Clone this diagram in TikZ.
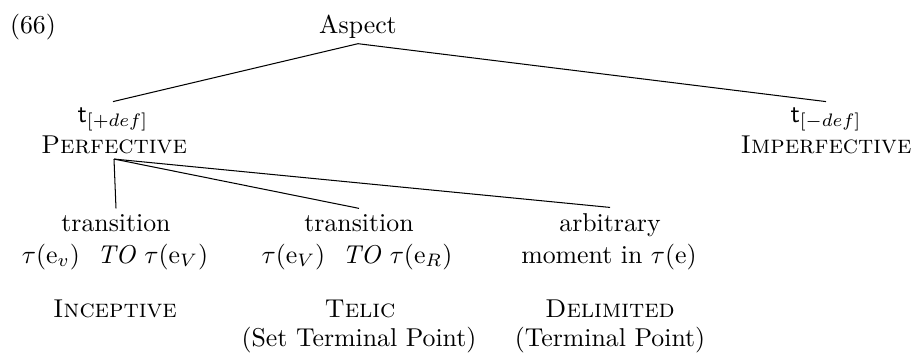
\documentclass[tikz,border=0pt]{standalone}
\begin{document}
\begin{tikzpicture}[x=0.3876pt,y=-0.3876pt,
  lbl/.style={anchor=base,inner sep=2pt},
  branch/.style={line width=0.4pt}]
\useasboundingbox (0,0) rectangle (915,354);
% top
\node[lbl] (num) at (33,33) {(66)};
\node[lbl] (asp) at (358,33) {Aspect};
% second level
\node[lbl] (tp) at (113,122) {\textsf{t}$_{[+def]}$};
\node[lbl] (pf) at (114,153) {\textsc{Perfective}};
\node[lbl] (tm) at (826,122) {\textsf{t}$_{[-def]}$};
\node[lbl] (ipf) at (826,153) {\textsc{Imperfective}};
% third level
\node[lbl] (tr1) at (116,231) {transition};
\node[lbl] (ta1) at (115,263) {$\tau$(e$_v$)\ \ \textit{TO} $\tau$(e$_V$)};
\node[lbl] (inc) at (115,317) {\textsc{Inceptive}};
\node[lbl] (tr2) at (359,231) {transition};
\node[lbl] (ta2) at (357,263) {$\tau$(e$_V$)\ \ \textit{TO} $\tau$(e$_R$)};
\node[lbl] (tel) at (360,317) {\textsc{Telic}};
\node[lbl] (stp) at (359,346) {(Set Terminal Point)};
\node[lbl] (arb) at (610,231) {arbitrary};
\node[lbl] (mom) at (609,263) {moment in $\tau$(e)};
\node[lbl] (del) at (610,317) {\textsc{Delimited}};
\node[lbl] (tpt) at (610,346) {(Terminal Point)};
% branches
\draw[branch] (asp.south) -- (tp.north);
\draw[branch] (asp.south) -- (tm.north);
\draw[branch] (pf.south) -- (tr1.north);
\draw[branch] (pf.south) -- (tr2.north);
\draw[branch] (pf.south) -- (arb.north);
\end{tikzpicture}
\end{document}
